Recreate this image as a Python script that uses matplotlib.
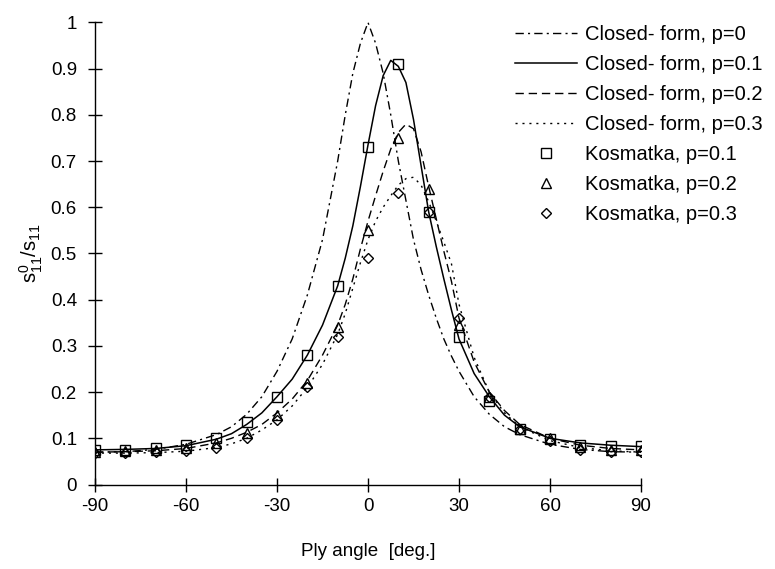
import matplotlib
matplotlib.use("Agg")
import matplotlib.pyplot as plt
from matplotlib.ticker import FixedLocator, FixedFormatter

plt.rcParams['font.family'] = ['Liberation Sans', 'DejaVu Sans']
plt.rcParams['axes.unicode_minus'] = False
plt.rcParams['mathtext.default'] = 'regular'

# ---- data ----
angles = [-90, -80, -70, -60, -50, -45, -40, -35, -30, -25, -20, -15, -10, -7.5, -5, -2.5,
          0, 2.5, 5, 7.5, 10, 12.5, 15, 17.5, 20, 22.5, 25, 27.5, 30, 35, 40, 45, 50, 60, 70, 80, 90]

cf_p0 = [0.070, 0.071, 0.076, 0.087, 0.108, 0.125, 0.152, 0.190, 0.245, 0.315, 0.410, 0.530, 0.700, 0.800, 0.890, 0.955,
         1.000, 0.955, 0.890, 0.800, 0.700, 0.615, 0.530, 0.465, 0.410, 0.360, 0.315, 0.278, 0.245, 0.190, 0.152, 0.125, 0.108, 0.087, 0.076, 0.071, 0.070]

cf_p01 = [0.075, 0.076, 0.078, 0.084, 0.098, 0.110, 0.130, 0.155, 0.190, 0.228, 0.280, 0.345, 0.430, 0.490, 0.560, 0.645,
          0.735, 0.820, 0.885, 0.918, 0.905, 0.870, 0.790, 0.690, 0.590, 0.515, 0.445, 0.378, 0.315, 0.240, 0.190, 0.150, 0.125, 0.100, 0.090, 0.085, 0.082]

cf_p02 = [0.070, 0.071, 0.073, 0.078, 0.090, 0.100, 0.113, 0.130, 0.155, 0.185, 0.225, 0.280, 0.345, 0.390, 0.445, 0.510,
          0.570, 0.625, 0.678, 0.726, 0.762, 0.780, 0.770, 0.720, 0.645, 0.575, 0.505, 0.440, 0.360, 0.265, 0.200, 0.160, 0.130, 0.100, 0.085, 0.078, 0.075]

cf_p03 = [0.068, 0.068, 0.069, 0.072, 0.080, 0.088, 0.100, 0.118, 0.140, 0.170, 0.210, 0.260, 0.325, 0.370, 0.425, 0.480,
          0.530, 0.570, 0.600, 0.625, 0.648, 0.662, 0.665, 0.648, 0.612, 0.570, 0.525, 0.478, 0.390, 0.275, 0.200, 0.155, 0.125, 0.095, 0.080, 0.073, 0.070]

k_angles = [-90, -80, -70, -60, -50, -40, -30, -20, -10, 0, 10, 20, 30, 40, 50, 60, 70, 80, 90]
kos_p01 = [0.075, 0.075, 0.078, 0.085, 0.100, 0.135, 0.190, 0.280, 0.430, 0.730, 0.910, 0.590, 0.320, 0.180, 0.120, 0.098, 0.086, 0.083, 0.083]
kos_p02 = [0.070, 0.072, 0.074, 0.078, 0.090, 0.112, 0.150, 0.220, 0.340, 0.550, 0.750, 0.640, 0.345, 0.190, 0.120, 0.100, 0.082, 0.075, 0.075]
kos_p03 = [0.068, 0.068, 0.070, 0.072, 0.080, 0.100, 0.140, 0.210, 0.320, 0.490, 0.630, 0.590, 0.360, 0.190, 0.120, 0.095, 0.075, 0.070, 0.070]

x_ticks = [-90, -60, -30, 0, 30, 60, 90]
x_tick_labels = ['-90', '-60', '-30', '0', '30', '60', '90']
y_ticks = [0, 0.1, 0.2, 0.3, 0.4, 0.5, 0.6, 0.7, 0.8, 0.9, 1.0]
y_tick_labels = ['0', '0.1', '0.2', '0.3', '0.4', '0.5', '0.6', '0.7', '0.8', '0.9', '1']

# ---- figure ----
fig = plt.figure(figsize=(7.75, 5.69), dpi=100)
ax = fig.add_axes([0.1226, 0.1485, 0.7045, 0.812])

lw = 1.0
ax.plot(angles, cf_p0, color='black', lw=lw, dashes=(6, 3, 1.5, 3), label='Closed- form, p=0')
ax.plot(angles, cf_p01, color='black', lw=1.1, ls='-', label='Closed- form, p=0.1')
ax.plot(angles, cf_p02, color='black', lw=lw, dashes=(6, 3.5), label='Closed- form, p=0.2')
ax.plot(angles, cf_p03, color='black', lw=lw, dashes=(1.5, 3.5), label='Closed- form, p=0.3')

mk = dict(color='black', ls='none', mfc='none', mec='black', mew=1.0)
ax.plot(k_angles, kos_p01, marker='s', ms=7.5, label='Kosmatka, p=0.1', **mk)
ax.plot(k_angles, kos_p02, marker='^', ms=7.5, label='Kosmatka, p=0.2', **mk)
ax.plot(k_angles, kos_p03, marker='D', ms=5.5, label='Kosmatka, p=0.3', **mk)

ax.set_xlim(-90, 90)
ax.set_ylim(0, 1)
for s in ['top', 'right']:
    ax.spines[s].set_visible(False)
for s in ['left', 'bottom']:
    ax.spines[s].set_linewidth(1.0)

ax.xaxis.set_major_locator(FixedLocator(x_ticks))
ax.xaxis.set_major_formatter(FixedFormatter(x_tick_labels))
ax.yaxis.set_major_locator(FixedLocator(y_ticks))
ax.yaxis.set_major_formatter(FixedFormatter(y_tick_labels))
ax.tick_params(axis='both', direction='inout', length=10, width=1.0, labelsize=13.5)
ax.tick_params(axis='x', pad=5)
ax.tick_params(axis='y', pad=8)

ax.set_xlabel('Ply angle  [deg.]', fontsize=13.5, labelpad=20)
ax.set_ylabel(r'$\mathregular{s^0_{11}/s_{11}}$', fontsize=14.5, labelpad=4)

leg = fig.legend(loc='upper left', bbox_to_anchor=(515 / 775, 1 - 25 / 569),
                 frameon=False, fontsize=14.5, handlelength=3.1, handletextpad=0.4,
                 labelspacing=0.55, borderpad=0, borderaxespad=0, numpoints=1)

fig.savefig('out.png', dpi=100)
